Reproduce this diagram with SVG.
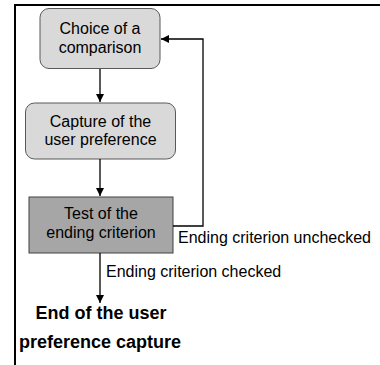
<svg xmlns="http://www.w3.org/2000/svg" width="380" height="365" viewBox="0 0 380 365">
<defs>
<style>
.t{font-family:"Liberation Sans",Arial,sans-serif;font-size:16px;fill:#000}
.c{text-anchor:middle}
.b{font-family:"Liberation Sans",Arial,sans-serif;font-size:18px;font-weight:bold;fill:#000;text-anchor:middle}
.ln{fill:none;stroke:#000;stroke-width:1.3}
</style>
<marker id="ah" viewBox="0 0 10 10" refX="10" refY="5" markerWidth="8" markerHeight="8" markerUnits="userSpaceOnUse" orient="auto">
<path d="M0,0 L10,5 L0,10 z" fill="#000"/>
</marker>
</defs>
<rect x="0" y="0" width="380" height="365" fill="#fff"/>
<path d="M15,365 V5 H380" fill="none" stroke="#000" stroke-width="2"/>
<g id="n1">
<rect x="40" y="8.5" width="120" height="60" rx="9" fill="#d9d9d9" stroke="#595959" stroke-width="1"/>
<text class="t c" x="100" y="34">Choice of a</text>
<text class="t c" x="100" y="53">comparison</text>
</g>
<g id="n2">
<rect x="25.5" y="103" width="150" height="56" rx="9" fill="#d9d9d9" stroke="#595959" stroke-width="1"/>
<text class="t c" x="100.5" y="127">Capture of the</text>
<text class="t c" x="100.5" y="145">user preference</text>
</g>
<g id="n3">
<rect x="29" y="197" width="144" height="56" fill="#a6a6a6" stroke="#404040" stroke-width="1"/>
<text class="t c" x="101" y="219">Test of the</text>
<text class="t c" x="101" y="238">ending criterion</text>
</g>
<g id="n4">
<text class="b" x="101" y="319">End of the user</text>
<text class="b" x="100" y="348">preference capture</text>
</g>
<g id="connectors">
<path class="ln" d="M100,69 V102" marker-end="url(#ah)"/>
<path class="ln" d="M100,159 V196" marker-end="url(#ah)"/>
<path class="ln" d="M173,226 H203 V39 H161" marker-end="url(#ah)"/>
<path class="ln" d="M100,253 V303" marker-end="url(#ah)"/>
<text class="t" x="178" y="243">Ending criterion unchecked</text>
<text class="t" x="106" y="277">Ending criterion checked</text>
</g>
</svg>
